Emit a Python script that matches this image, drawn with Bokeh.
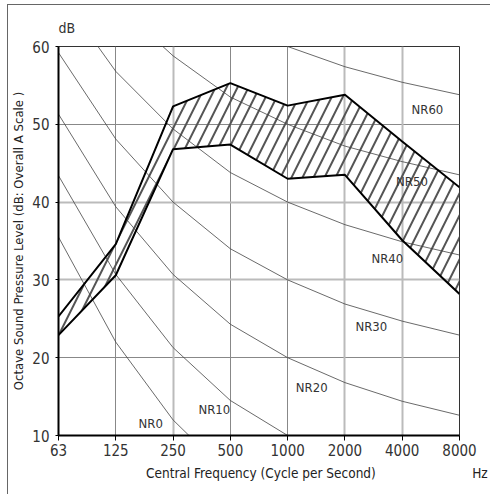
from bokeh.plotting import figure
from bokeh.models import FixedTicker, Grid, ColumnDataSource
from bokeh.core.properties import value
from bokeh.embed import file_html
from bokeh.resources import INLINE

FONT = "'DejaVu Sans Condensed', 'Roboto Condensed', Roboto"

freq_labels = ["63", "125", "250", "500", "1000", "2000", "4000", "8000"]
upper = [25.3, 34.6, 52.3, 55.3, 52.4, 53.8, 47.8, 41.9]
lower = [22.9, 30.6, 46.8, 47.4, 43.0, 43.5, 35.1, 28.2]

nr_names = ["NR0", "NR10", "NR20", "NR30", "NR40", "NR50", "NR60"]
nr_curves = [
    [35.5, 22.0, 12.0, 4.8, 0.0, -3.5, -6.1, -8.0],
    [43.4, 30.7, 21.3, 14.5, 10.0, 6.6, 4.2, 2.3],
    [51.3, 39.4, 30.7, 24.3, 20.0, 16.8, 14.4, 12.6],
    [59.2, 48.1, 40.0, 34.0, 30.0, 26.9, 24.7, 22.9],
    [67.1, 56.8, 49.4, 43.8, 40.0, 37.1, 34.9, 33.2],
    [75.0, 65.5, 58.8, 53.5, 50.0, 47.2, 45.2, 43.5],
    [82.9, 74.2, 68.1, 63.2, 60.0, 57.4, 55.4, 53.8],
]
nr_label_x = [1.61, 2.72, 4.42, 5.46, 5.74, 6.17, 6.44]
nr_label_y = [11.6, 13.4, 16.2, 24.0, 32.8, 42.7, 51.9]

y_ticks = [10, 20, 30, 40, 50, 60]

x_title = "Central Frequency (Cycle per Second)"
x_unit = "Hz"
y_title = "Octave Sound Pressure Level (dB: Overall A Scale )"
y_unit = "dB"

xs = list(range(len(freq_labels)))

p = figure(width=483, height=490, x_range=(0, 7), y_range=(10, 60),
           output_backend="svg", toolbar_location=None,
           min_border_left=49, min_border_right=32, min_border_top=41, min_border_bottom=60)

p.styles = {"margin-left": "7px", "margin-top": "4px",
            "border-left": "1px solid #666", "border-top": "1px solid #666"}

p.title.text = y_unit
p.title.align = "left"
p.title.text_font = FONT
p.title.text_font_size = "14px"
p.title.text_font_style = "normal"
p.title.text_color = "#333"
p.title.standoff = 22

p.outline_line_color = "#333"
p.outline_line_width = 1

# grids
p.xgrid.ticker = FixedTicker(ticks=[1, 3, 4])
p.xgrid.grid_line_color = "#888"
p.xgrid.grid_line_width = 1
p.ygrid.ticker = FixedTicker(ticks=[20, 50])
p.ygrid.grid_line_color = "#888"
p.ygrid.grid_line_width = 1
p.add_layout(Grid(dimension=0, ticker=FixedTicker(ticks=[2, 5, 6]), grid_line_color="#bbb", grid_line_width=2))
p.add_layout(Grid(dimension=1, ticker=FixedTicker(ticks=[30, 40]), grid_line_color="#bbb", grid_line_width=2))

# hatched band
px = xs + xs[::-1]
py = upper + lower[::-1]
p.patch(px, py, fill_color="white", fill_alpha=0, line_color=None,
        hatch_pattern="/", hatch_color="#555", hatch_scale=22, hatch_weight=2)

# NR curves
for c in nr_curves:
    p.line(xs, c, line_color="#444", line_width=0.8)

p.line(xs, upper, line_color="black", line_width=2)
p.line(xs, lower, line_color="black", line_width=2)

src = ColumnDataSource(dict(x=nr_label_x, y=nr_label_y, t=nr_names))
p.text("x", "y", text="t", source=src, text_align="center", text_baseline="middle",
       text_font=value(FONT), text_font_size="13px", text_color="#333")

# axes
p.xaxis.ticker = FixedTicker(ticks=xs)
p.xaxis.major_label_overrides = {i: s for i, s in enumerate(freq_labels)}
p.yaxis.ticker = FixedTicker(ticks=y_ticks)
for ax in (p.xaxis[0], p.yaxis[0]):
    ax.axis_line_color = "black"
    ax.axis_line_width = 2
    ax.major_tick_line_color = "black"
    ax.minor_tick_line_color = None
    ax.major_label_text_font = FONT
    ax.major_label_text_font_size = "15px"
    ax.major_label_text_color = "#333"
    ax.axis_label_text_font = FONT
    ax.axis_label_text_font_style = "normal"
    ax.axis_label_text_color = "#222"
p.xaxis.axis_label_text_font_size = "13.5px"
p.yaxis.axis_label_text_font_size = "13px"
p.xaxis.major_tick_out = 5
p.xaxis.major_tick_in = 0
p.xaxis.major_label_standoff = 3
NB = "\u00a0"
p.xaxis.axis_label = NB * 30 + x_title + NB * 25 + x_unit
p.xaxis.axis_label_standoff = 6
p.yaxis.major_tick_out = 3
p.yaxis.major_tick_in = 0
p.yaxis.major_label_standoff = 6
p.yaxis.axis_label = y_title
p.yaxis.axis_label_standoff = 3

open("out.html", "w").write(file_html(p, INLINE))
